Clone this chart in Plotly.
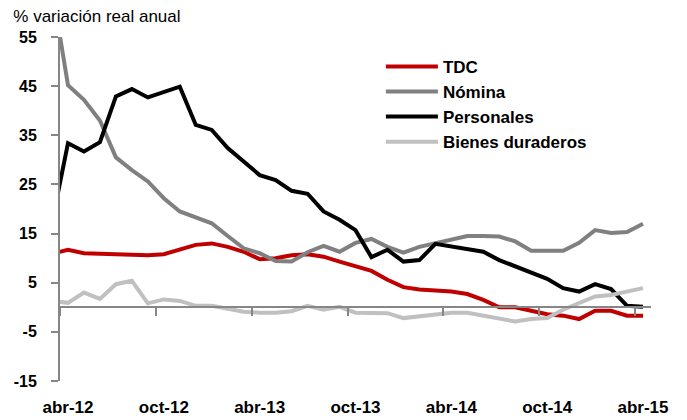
import plotly.graph_objects as go

# Monthly categories (mar-12 is only partly visible, clipped at the left edge)
months = ["mar-12", "abr-12", "may-12", "jun-12", "jul-12", "ago-12", "sep-12", "oct-12", "nov-12", "dic-12",
          "ene-13", "feb-13", "mar-13", "abr-13", "may-13", "jun-13", "jul-13", "ago-13", "sep-13",
          "oct-13", "nov-13", "dic-13", "ene-14", "feb-14", "mar-14", "abr-14", "may-14", "jun-14",
          "jul-14", "ago-14", "sep-14", "oct-14", "nov-14", "dic-14", "ene-15", "feb-15", "mar-15", "abr-15"]

tdc = [10.9, 11.7, 11.0, 10.9, 10.8, 10.7, 10.6, 10.8, 11.7, 12.7, 13.0, 12.3, 11.3, 9.8, 10.0, 10.6,
       10.8, 10.3, 9.3, 8.3, 7.4, 5.6, 4.1, 3.6, 3.4, 3.2, 2.7, 1.5, 0.0, 0.0, -0.7, -1.4, -1.7,
       -2.4, -0.7, -0.7, -1.7, -1.7]
nomina = [65.0, 45.2, 42.2, 38.0, 30.5, 27.9, 25.6, 22.2, 19.5, 18.3, 17.1, 14.5, 12.0, 11.0, 9.4, 9.3,
          11.2, 12.5, 11.3, 13.1, 13.9, 12.3, 11.1, 12.3, 13.1, 13.8, 14.5, 14.5, 14.4, 13.4, 11.5,
          11.5, 11.5, 13.1, 15.7, 15.1, 15.3, 17.0]
personales = [17.2, 33.4, 31.7, 33.6, 42.9, 44.4, 42.7, 43.8, 44.9, 37.1, 36.1, 32.4, 29.6, 26.9, 25.9,
              23.7, 23.1, 19.5, 17.8, 15.7, 10.2, 11.7, 9.3, 9.6, 12.9, 12.4, 12.0, 11.3, 9.6, 8.3,
              6.9, 5.8, 3.9, 3.2, 4.7, 3.7, 0.3, 0.1]
bienes = [1.3, 0.9, 3.0, 1.7, 4.7, 5.4, 0.8, 1.6, 1.3, 0.3, 0.3, -0.2, -0.9, -1.1, -1.1, -0.8, 0.3,
          -0.5, 0.1, -1.1, -1.2, -1.2, -2.2, -1.9, -1.6, -1.1, -1.1, -1.7, -2.4, -2.9, -2.4, -2.2,
          -0.5, 0.8, 2.2, 2.5, 3.1, 3.9]

label_months = ["abr-12", "oct-12", "abr-13", "oct-13", "abr-14", "oct-14", "abr-15"]
y_ticks = [-15, -5, 5, 15, 25, 35, 45, 55]
y_tick_text = ["-15", "-5", "5", "15", "25", "35", "45", "55"]

series = [("TDC", tdc, "#C00000"), ("Nómina", nomina, "#808080"),
          ("Personales", personales, "#000000"), ("Bienes duraderos", bienes, "#C0C0C0")]

idx = list(range(-1, len(months) - 1))  # abr-12 -> 0
pos = {m: i for m, i in zip(months, idx)}

fig = go.Figure()
for name, vals, col in series:
    fig.add_trace(go.Scatter(x=idx, y=vals, mode="lines", name=name, legendgroup=name,
                             line=dict(color=col, width=4), cliponaxis=True))

label_pos = [pos[m] for m in label_months]
boundary_pos = [p - 0.5 for p in label_pos]
font_b = "Liberation Sans, Arial, sans-serif"
axis_gray = "#868686"

# the page body adds an 8px offset, so the figure is 8px smaller than the window
W, H = 679, 412

fig.update_layout(
    width=W, height=H,
    margin=dict(l=52, r=36, t=29, b=39, autoexpand=False),
    paper_bgcolor="white", plot_bgcolor="white",
    title=dict(text="% variación real anual", x=5.3 / W, xanchor="left", xref="container",
               y=1 - 7.7 / H, yanchor="middle", yref="container", automargin=False,
               font=dict(family=font_b, size=17, color="black")),
    showlegend=True,
    legend=dict(x=0.543, y=0.9655, xanchor="left", yanchor="top", bgcolor="rgba(0,0,0,0)",
                font=dict(family=font_b, size=17, color="black", weight="bold"),
                itemwidth=52, tracegroupgap=1, traceorder="normal"),
    xaxis=dict(range=[-0.5, 36.5], tickvals=label_pos, ticktext=label_months, ticks="",
               showline=False, showgrid=False, zeroline=False, ticklabelstandoff=14, automargin=False,
               tickfont=dict(family=font_b, size=17, color="black", weight="bold")),
    xaxis2=dict(overlaying="x", matches="x", range=[-0.5, 36.5], anchor="free", position=15 / 70,
                tickvals=boundary_pos, ticks="outside", ticklen=8, tickwidth=1.5, tickcolor=axis_gray,
                showline=True, linecolor=axis_gray, linewidth=2, showticklabels=False,
                showgrid=False, zeroline=False, automargin=False),
    yaxis=dict(range=[-15, 55], tickvals=y_ticks, ticktext=y_tick_text, ticks="outside", ticklen=7,
               tickwidth=1.5, tickcolor=axis_gray, showline=True, linecolor=axis_gray, linewidth=2,
               showgrid=False, zeroline=False, ticklabelstandoff=11, automargin=False,
               tickfont=dict(family=font_b, size=16, color="black", weight="bold")),
)
# invisible helper so the overlaid tick axis is drawn
fig.add_trace(go.Scatter(x=idx, y=tdc, xaxis="x2", mode="lines", line=dict(width=0),
                         opacity=0, showlegend=False, hoverinfo="skip"))

fig.write_html("out.html")
